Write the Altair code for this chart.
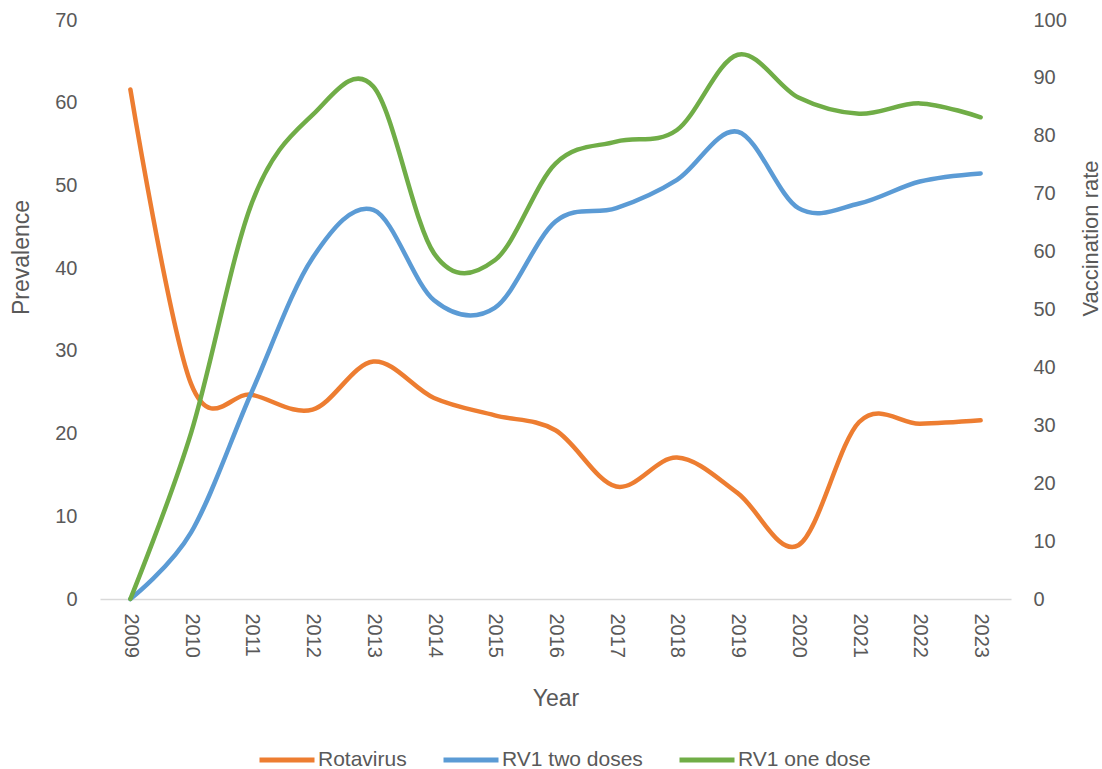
import altair as alt
import pandas as pd

years = [str(y) for y in range(2009, 2024)]
rotavirus = [61.6, 26.0, 24.7, 22.9, 28.7, 24.3, 22.2, 20.4, 13.6, 17.1, 12.8, 6.5, 21.4, 21.2, 21.6]
rv1_two = [0, 11.5, 35.8, 58.9, 67.2, 51.6, 50.3, 65.2, 67.5, 72.4, 80.7, 67.5, 68.3, 72.1, 73.5]
rv1_one = [0, 28.7, 68.4, 83.6, 88.5, 59.7, 58.5, 75.2, 79.0, 81.0, 94.0, 86.6, 83.8, 85.6, 83.2]

series_names = ["Rotavirus", "RV1 two doses", "RV1 one dose"]
colors = ["#ED7D31", "#5B9BD5", "#70AD47"]

rows = []
for i, y in enumerate(years):
    rows.append({"Year": y, "series": "Rotavirus", "value": rotavirus[i]})
    rows.append({"Year": y, "series": "RV1 two doses", "value": rv1_two[i]})
    rows.append({"Year": y, "series": "RV1 one dose", "value": rv1_one[i]})
df = pd.DataFrame(rows)

FONT = "Liberation Sans"
GREY = "#595959"

x_enc = alt.X(
    "Year:N",
    sort=years,
    scale=alt.Scale(type="point", padding=0.5),
    axis=alt.Axis(
        title="Year", labelAngle=90, labelAlign="left", labelBaseline="middle",
        labelFontSize=20, labelColor=GREY, labelFont=FONT, labelPadding=14,
        titleFontSize=23, titleColor=GREY, titleFont=FONT, titleFontWeight="normal",
        titleY=99, titleBaseline="middle", titleAnchor="middle",
        ticks=False, domain=True, domainColor="#d9d9d9", domainWidth=1.5,
        grid=False,
    ),
)

color_enc = alt.Color(
    "series:N",
    scale=alt.Scale(domain=series_names, range=colors),
    sort=series_names,
    legend=alt.Legend(
        title=None, orient="none", legendX=157, legendY=710, direction="horizontal",
        symbolType="stroke", symbolStrokeWidth=5, symbolSize=3025,
        labelFontSize=21, labelColor=GREY, labelFont=FONT, columnPadding=26,
        labelOffset=1, padding=0,
    ),
)

left = alt.Chart(df).transform_filter(alt.datum.series == "Rotavirus").mark_line(
    interpolate="cardinal", strokeWidth=4.5, strokeCap="round"
).encode(
    x=x_enc,
    y=alt.Y(
        "value:Q",
        scale=alt.Scale(domain=[0, 70]),
        axis=alt.Axis(
            title="Prevalence", orient="left", values=list(range(0, 71, 10)),
            labelFontSize=20, labelColor=GREY, labelFont=FONT, labelPadding=23,
            titleFontSize=23, titleColor=GREY, titleFont=FONT, titleFontWeight="normal",
            titleX=-79, titleY=237, titleAngle=270, titleBaseline="middle", titleAlign="center",
            ticks=False, domain=False, grid=False,
        ),
    ),
    color=color_enc,
)

right = alt.Chart(df).transform_filter(alt.datum.series != "Rotavirus").mark_line(
    interpolate="cardinal", strokeWidth=4.5, strokeCap="round"
).encode(
    x=x_enc,
    y=alt.Y(
        "value:Q",
        scale=alt.Scale(domain=[0, 100]),
        axis=alt.Axis(
            title="Vaccination rate", orient="right", values=list(range(0, 101, 10)),
            labelFontSize=20, labelColor=GREY, labelFont=FONT, labelPadding=22,
            titleFontSize=22, titleColor=GREY, titleFont=FONT, titleFontWeight="normal",
            titleX=79, titleY=218, titleAngle=270, titleBaseline="middle", titleAlign="center",
            ticks=False, domain=False, grid=False,
        ),
    ),
    color=color_enc,
)

chart = alt.layer(left, right).resolve_scale(y="independent").properties(
    width=911, height=579,
    background="white",
    autosize=alt.AutoSizeParams(type="none"),
    padding={"left": 100, "top": 20, "right": 91, "bottom": 170},
).configure_view(strokeWidth=0)

chart.save("out.html", embed_options={"renderer": "svg", "actions": False})
